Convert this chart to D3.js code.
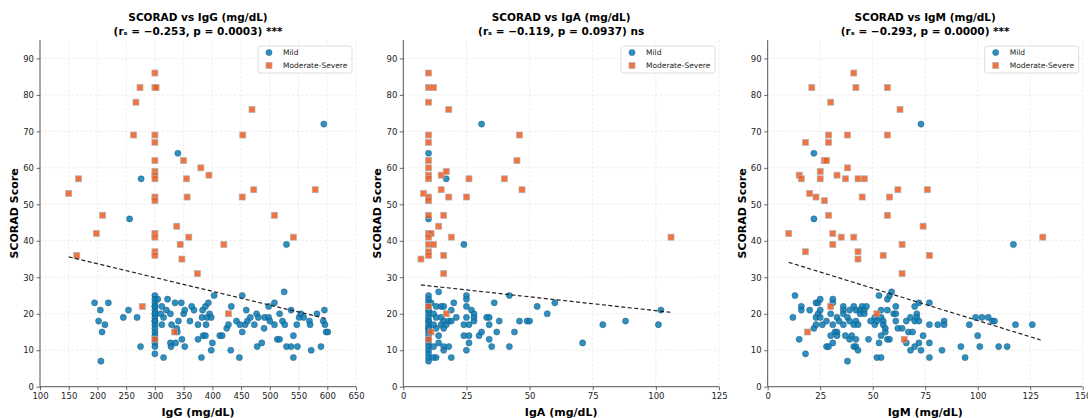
<!DOCTYPE html>
<html>
<head>
<meta charset="utf-8">
<script src="https://cdn.jsdelivr.net/npm/d3@7"></script>
<style>
  body { margin: 0; background: #fff; }
  svg text { font-family: "DejaVu Sans", sans-serif; }
</style>
</head>
<body>
<div id="chart"></div>
<script>
// values
var yTicks = [0, 10, 20, 30, 40, 50, 60, 70, 80, 90];

var igG_ticks = [100, 150, 200, 250, 300, 350, 400, 450, 500, 550, 600, 650];
var igA_ticks = [0, 25, 50, 75, 100, 125];
var igM_ticks = [0, 25, 50, 75, 100, 125, 150];

var igG_mild = [
  [195,23],[205,21],[202,18],[213,17],[208,15],[219,23],[206,7],[245,19],[254,21],[269,19],[275,11],
  [300,25],[300,24],[300,23],[300,22],[300,21],[300,20],[300,19],[300,18],[300,17],[300,16],[300,15],
  [300,14],[300,13],[300,12],[300,11],[300,9],[300,20],[300,18],[300,22],
  [305,24],[312,22],[315,19],[310,20],[322,24],[320,21],[327,20],[329,17],[312,17],[315,8],[327,12],
  [328,11],[335,23],[336,12],[338,16],[341,18],[339,15],[346,23],[347,13],[350,20],[352,21],[352,11],
  [361,18],[364,22],[368,21],[375,17],[375,13],[381,8],[382,19],[383,21],[384,14],[388,14],[388,22],
  [389,17],[391,19],[393,23],[395,20],[398,19],[398,10],[400,12],[403,25],[413,14],[417,14],[425,16],
  [428,17],[432,10],[433,22],[442,18],[448,17],[452,25],[452,15],[457,17],[459,21],[461,18],[466,19],
  [447,8],[473,17],[477,20],[478,11],[480,19],[486,12],[490,16],[491,19],[498,22],[498,19],[500,18],
  [508,17],[508,23],[513,13],[517,13],[517,20],[522,18],[525,26],[526,17],[529,11],[537,11],[537,21],
  [541,14],[541,8],[547,17],[548,11],[551,19],[554,20],[559,19],[569,18],[570,17],[572,10],[582,20],
  [589,11],[593,18],[595,21],[596,17],[598,15],[601,15],
  [594,72],[340,64],[276,57],[256,46],[529,39]
];
var igG_severe = [
  [300,86],[274,82],[300,82],[302,82],[267,78],[469,76],[263,69],[300,69],[453,69],[300,67],[350,62],
  [300,62],[380,60],[394,58],[300,59],[300,58],[300,57],[355,57],[150,53],[167,57],[300,52],[300,51],
  [356,52],[452,52],[472,54],[579,54],[209,47],[508,47],[198,42],[300,42],[300,41],[338,44],[359,41],
  [541,41],[344,39],[420,39],[300,37],[300,36],[164,36],[347,35],[374,31],[278,22],[334,15],[300,13],
  [428,20]
];

var igA_mild = [
  [10,25],[10,24],[10,23],[10,22],[10,21],[10,20],[10,19],[10,18],[10,17],[10,16],[10,15],[10,14],
  [10,13],[10,12],[10,11],[10,10],[10,9],[10,8],[10,7],[10,21],[10,18],[10,16],
  [11,23],[12,20],[12,17],[12,11],[12,8],[13,22],[13,19],[13,16],[13,8],[14,26],[14,14],[14,12],
  [15,22],[15,19],[15,17],[16,18],[16,22],[16,16],[16,11],[16,10],[17,17],[18,11],[18,18],[19,8],
  [19,21],[19,18],[20,23],[21,19],[24,14],[24,17],[25,25],[25,24],[25,22],[25,19],[25,10],[26,17],
  [26,14],[26,12],[27,21],[28,20],[28,19],[28,18],[30,14],[31,15],[33,19],[34,19],[34,17],[34,13],
  [35,11],[36,23],[37,15],[38,18],[42,25],[42,11],[44,15],[46,18],[49,18],[50,18],[53,22],[57,20],
  [60,23],[71,12],[79,17],[88,18],[101,17],[102,21],
  [31,72],[10,64],[17,57],[10,46],[24,39]
];
var igA_severe = [
  [10,86],[10,82],[12,82],[10,78],[18,76],[10,69],[46,69],[10,67],[10,62],[45,62],[10,60],[15,58],
  [17,59],[10,58],[10,57],[26,57],[40,57],[47,54],[15,54],[8,53],[10,52],[10,51],[18,52],[25,52],
  [10,47],[16,47],[14,44],[10,42],[11,42],[10,41],[19,41],[106,41],[10,39],[12,39],[10,37],[10,36],
  [16,36],[7,35],[16,31],[10,22],[17,20],[11,15],[10,13]
];

var igM_mild = [
  [13,25],[12,19],[16,22],[16,21],[15,13],[18,9],[20,21],[22,16],[23,23],[23,19],[23,17],[24,23],
  [24,20],[25,24],[25,21],[25,19],[26,17],[28,18],[28,11],[29,11],[30,20],[30,14],[31,24],[31,23],
  [31,17],[31,12],[32,15],[33,15],[33,19],[33,14],[34,18],[36,22],[36,21],[36,20],[36,17],[37,14],
  [38,7],[38,19],[39,21],[39,18],[39,13],[40,14],[41,22],[41,17],[41,11],[42,21],[42,18],[42,13],
  [42,11],[43,17],[43,10],[44,21],[44,20],[45,22],[46,21],[46,20],[47,22],[48,13],[49,18],[51,19],
  [51,17],[52,18],[53,25],[53,12],[54,21],[54,19],[54,14],[55,18],[55,17],[56,16],[56,15],[52,8],
  [54,8],[57,24],[57,21],[57,13],[58,13],[58,25],[59,26],[60,20],[61,22],[61,20],[61,18],[62,16],
  [64,16],[66,12],[66,18],[67,15],[68,19],[68,10],[69,15],[70,18],[70,22],[71,20],[71,19],[70,11],
  [72,18],[72,12],[72,23],[73,10],[74,14],[77,23],[77,17],[77,12],[77,8],[81,17],[83,10],[84,18],
  [84,17],[92,11],[94,8],[96,17],[99,19],[100,14],[101,11],[102,19],[105,19],[107,18],[108,18],
  [110,11],[114,11],[118,17],[126,17],
  [22,64],[22,46],[117,39],[73,72]
];
var igM_severe = [
  [21,82],[41,86],[42,82],[57,82],[30,78],[63,76],[29,69],[38,69],[57,69],[18,67],[29,67],[27,62],
  [28,62],[38,60],[25,59],[15,58],[16,57],[25,57],[33,58],[37,57],[43,57],[46,57],[20,53],[23,52],
  [27,51],[45,52],[58,52],[62,54],[76,54],[29,47],[57,47],[74,44],[10,42],[31,42],[35,41],[41,41],
  [131,41],[31,39],[64,39],[18,37],[43,37],[43,35],[55,36],[77,36],[64,31],[30,22],[52,20],[19,15],
  [65,13]
];

// dashed trend line end points
var igG_trend = [[150,35.6],[600,18.6]];
var igA_trend = [[7,27.9],[106,20.4]];
var igM_trend = [[10,34.1],[130,12.8]];

var titles = ["SCORAD vs IgG (mg/dL)", "SCORAD vs IgA (mg/dL)", "SCORAD vs IgM (mg/dL)"];
var subtitles = [
  "(r\u209B = \u22120.253, p = 0.0003) ***",
  "(r\u209B = \u22120.119, p = 0.0937) ns",
  "(r\u209B = \u22120.293, p = 0.0000) ***"
];
var xLabels = ["IgG (mg/dL)", "IgA (mg/dL)", "IgM (mg/dL)"];

var mildColor = "#0a7db5";
var severeColor = "#f05a1e";

var W = 1088, H = 418;
var svg = d3.select("#chart").append("svg")
  .attr("width", W)
  .attr("height", H);

var panels = [
  {left: 40, right: 356, ticks: igG_ticks, mild: igG_mild, severe: igG_severe, trend: igG_trend},
  {left: 403.3, right: 719, ticks: igA_ticks, mild: igA_mild, severe: igA_severe, trend: igA_trend},
  {left: 767.7, right: 1082.7, ticks: igM_ticks, mild: igM_mild, severe: igM_severe, trend: igM_trend}
];

var yTop = 40.2, yBottom = 386.7;
var y = d3.scaleLinear().domain([0, 95]).range([yBottom, yTop]);

panels.forEach(function(p, i) {
  var t = p.ticks;
  var x = d3.scaleLinear().domain([t[0], t[t.length - 1]]).range([p.left, p.right]);
  var g = svg.append("g");

  // grid
  g.selectAll(".gx").data(t).enter().append("line")
    .attr("x1", d => x(d)).attr("x2", d => x(d))
    .attr("y1", yTop).attr("y2", yBottom)
    .style("stroke", "#e4e4e4").style("stroke-width", 0.7)
    .style("stroke-dasharray", "2.5,2");
  g.selectAll(".gy").data(yTicks).enter().append("line")
    .attr("x1", p.left).attr("x2", p.right)
    .attr("y1", d => y(d)).attr("y2", d => y(d))
    .style("stroke", "#e4e4e4").style("stroke-width", 0.7)
    .style("stroke-dasharray", "2.5,2");

  // axes
  var xAxis = g.append("g")
    .attr("transform", "translate(0," + yBottom + ")")
    .call(d3.axisBottom(x).tickValues(t).tickSize(3.5).tickPadding(2.5).tickFormat(d3.format("d")));
  var yAxis = g.append("g")
    .attr("transform", "translate(" + p.left + ",0)")
    .call(d3.axisLeft(y).tickValues(yTicks).tickSize(3.5).tickPadding(2.5).tickFormat(d3.format("d")));
  [xAxis, yAxis].forEach(function(a) {
    a.select(".domain").style("stroke", "#444").style("stroke-width", 0.9);
    a.selectAll(".tick line").style("stroke", "#444").style("stroke-width", 0.8);
    a.selectAll(".tick text").style("font-size", "8.5px").style("fill", "#222")
      .style("font-family", "DejaVu Sans, sans-serif");
  });
  yAxis.select(".domain").attr("d", "M0," + yBottom + "V" + yTop);
  xAxis.select(".domain").attr("d", "M" + p.left + ",0H" + p.right);

  // points
  g.selectAll(".mild").data(p.mild).enter().append("circle")
    .attr("cx", d => x(d[0])).attr("cy", d => y(d[1]))
    .attr("r", 3.1)
    .style("fill", mildColor).style("fill-opacity", 0.85)
    .style("stroke", "#1c4f6e").style("stroke-width", 0.4);

  var s = 6;
  g.selectAll(".sev").data(p.severe).enter().append("rect")
    .attr("x", d => x(d[0]) - s / 2).attr("y", d => y(d[1]) - s / 2)
    .attr("width", s).attr("height", s)
    .style("fill", severeColor).style("fill-opacity", 0.85)
    .style("stroke", "#b0b0b0").style("stroke-width", 0.7);

  // trend line
  var line = d3.line().x(d => x(d[0])).y(d => y(d[1]));
  g.append("path").datum(p.trend)
    .attr("d", line)
    .style("fill", "none").style("stroke", "#222")
    .style("stroke-width", 1.2).style("stroke-dasharray", "4,2.5");

  // titles
  var cx = (p.left + p.right) / 2;
  g.append("text").attr("x", cx).attr("y", 21)
    .attr("text-anchor", "middle")
    .style("font-size", "10.5px").style("font-weight", "bold")
    .text(titles[i]);
  g.append("text").attr("x", cx).attr("y", 34.5)
    .attr("text-anchor", "middle")
    .style("font-size", "10.5px").style("font-weight", "bold")
    .text(subtitles[i]);

  // axis labels
  g.append("text").attr("x", cx).attr("y", 416)
    .attr("text-anchor", "middle")
    .style("font-size", "11px").style("font-weight", "bold")
    .text(xLabels[i]);
  g.append("text")
    .attr("transform", "translate(" + (p.left - 22) + "," + ((yTop + yBottom) / 2) + ") rotate(-90)")
    .attr("text-anchor", "middle")
    .style("font-size", "11px").style("font-weight", "bold")
    .text("SCORAD Score");

  // legend
  var lx = p.right - 98, ly = 46;
  var lg = g.append("g").attr("transform", "translate(" + lx + "," + ly + ")");
  lg.append("rect").attr("width", 94).attr("height", 27).attr("rx", 2)
    .style("fill", "#fff").style("fill-opacity", 0.8)
    .style("stroke", "#d6d6d6").style("stroke-width", 0.8);
  lg.append("circle").attr("cx", 11).attr("cy", 6.5).attr("r", 3.1)
    .style("fill", mildColor).style("fill-opacity", 0.85)
    .style("stroke", "#1c4f6e").style("stroke-width", 0.4);
  lg.append("rect").attr("x", 8).attr("y", 16.5).attr("width", 6).attr("height", 6)
    .style("fill", severeColor).style("fill-opacity", 0.85)
    .style("stroke", "#b0b0b0").style("stroke-width", 0.7);
  lg.append("text").attr("x", 25).attr("y", 9.3)
    .style("font-size", "7.5px").style("fill", "#222").text("Mild");
  lg.append("text").attr("x", 25).attr("y", 22.3)
    .style("font-size", "7.5px").style("fill", "#222").text("Moderate-Severe");
});
</script>
</body>
</html>
